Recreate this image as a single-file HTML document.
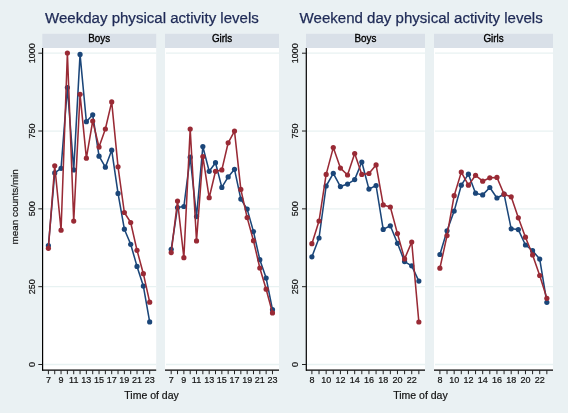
<!DOCTYPE html><html><head><meta charset="utf-8"><style>html,body{margin:0;padding:0;background:#eaf1f3;}svg{display:block;will-change:transform;}text{font-family:"Liberation Sans",sans-serif;}</style></head><body>
<svg width="568" height="413" viewBox="0 0 568 413">
<rect x="0" y="0" width="568" height="413" fill="#eaf1f3"/>
<text x="45.0" y="22.6" font-size="15.05" fill="#1e2a56" stroke="#1e2a56" stroke-width="0.25">Weekday physical activity levels</text>
<text x="299.6" y="22.5" font-size="15.05" fill="#1e2a56" stroke="#1e2a56" stroke-width="0.25">Weekend day physical activity levels</text>
<rect x="42.30" y="33.80" width="113.90" height="14.20" fill="#d9e0e8"/>
<text transform="translate(99.25 42.3) scale(0.94 1)" font-size="10.5" text-anchor="middle" fill="#000" stroke="#000" stroke-width="0.35">Boys</text>
<rect x="42.30" y="48.00" width="113.90" height="322.20" fill="#fff"/>
<line x1="43.30" y1="364.50" x2="156.20" y2="364.50" stroke="#e8f2f2" stroke-width="1.3"/>
<line x1="43.30" y1="286.68" x2="156.20" y2="286.68" stroke="#e8f2f2" stroke-width="1.3"/>
<line x1="43.30" y1="208.85" x2="156.20" y2="208.85" stroke="#e8f2f2" stroke-width="1.3"/>
<line x1="43.30" y1="131.03" x2="156.20" y2="131.03" stroke="#e8f2f2" stroke-width="1.3"/>
<line x1="43.30" y1="53.20" x2="156.20" y2="53.20" stroke="#e8f2f2" stroke-width="1.3"/>
<line x1="42.60" y1="48.00" x2="42.60" y2="370.80" stroke="#000" stroke-width="1.2"/>
<line x1="38.30" y1="364.50" x2="42.30" y2="364.50" stroke="#222" stroke-width="1"/>
<text transform="translate(35.10 364.50) rotate(-90)" font-size="9" text-anchor="middle" fill="#111" stroke="#111" stroke-width="0.2">0</text>
<line x1="38.30" y1="286.68" x2="42.30" y2="286.68" stroke="#222" stroke-width="1"/>
<text transform="translate(35.10 286.68) rotate(-90)" font-size="9" text-anchor="middle" fill="#111" stroke="#111" stroke-width="0.2">250</text>
<line x1="38.30" y1="208.85" x2="42.30" y2="208.85" stroke="#222" stroke-width="1"/>
<text transform="translate(35.10 208.85) rotate(-90)" font-size="9" text-anchor="middle" fill="#111" stroke="#111" stroke-width="0.2">500</text>
<line x1="38.30" y1="131.03" x2="42.30" y2="131.03" stroke="#222" stroke-width="1"/>
<text transform="translate(35.10 131.03) rotate(-90)" font-size="9" text-anchor="middle" fill="#111" stroke="#111" stroke-width="0.2">750</text>
<line x1="38.30" y1="53.20" x2="42.30" y2="53.20" stroke="#222" stroke-width="1"/>
<text transform="translate(35.10 53.20) rotate(-90)" font-size="9" text-anchor="middle" fill="#111" stroke="#111" stroke-width="0.2">1000</text>
<line x1="42.30" y1="370.20" x2="156.20" y2="370.20" stroke="#000" stroke-width="1.2"/>
<line x1="48.40" y1="370.20" x2="48.40" y2="374.20" stroke="#222" stroke-width="1"/>
<line x1="54.73" y1="370.20" x2="54.73" y2="374.20" stroke="#222" stroke-width="1"/>
<line x1="61.06" y1="370.20" x2="61.06" y2="374.20" stroke="#222" stroke-width="1"/>
<line x1="67.39" y1="370.20" x2="67.39" y2="374.20" stroke="#222" stroke-width="1"/>
<line x1="73.72" y1="370.20" x2="73.72" y2="374.20" stroke="#222" stroke-width="1"/>
<line x1="80.05" y1="370.20" x2="80.05" y2="374.20" stroke="#222" stroke-width="1"/>
<line x1="86.38" y1="370.20" x2="86.38" y2="374.20" stroke="#222" stroke-width="1"/>
<line x1="92.71" y1="370.20" x2="92.71" y2="374.20" stroke="#222" stroke-width="1"/>
<line x1="99.04" y1="370.20" x2="99.04" y2="374.20" stroke="#222" stroke-width="1"/>
<line x1="105.37" y1="370.20" x2="105.37" y2="374.20" stroke="#222" stroke-width="1"/>
<line x1="111.70" y1="370.20" x2="111.70" y2="374.20" stroke="#222" stroke-width="1"/>
<line x1="118.03" y1="370.20" x2="118.03" y2="374.20" stroke="#222" stroke-width="1"/>
<line x1="124.36" y1="370.20" x2="124.36" y2="374.20" stroke="#222" stroke-width="1"/>
<line x1="130.69" y1="370.20" x2="130.69" y2="374.20" stroke="#222" stroke-width="1"/>
<line x1="137.02" y1="370.20" x2="137.02" y2="374.20" stroke="#222" stroke-width="1"/>
<line x1="143.35" y1="370.20" x2="143.35" y2="374.20" stroke="#222" stroke-width="1"/>
<line x1="149.68" y1="370.20" x2="149.68" y2="374.20" stroke="#222" stroke-width="1"/>
<text x="48.40" y="382.5" font-size="9" text-anchor="middle" fill="#111" stroke="#111" stroke-width="0.2">7</text>
<text x="61.06" y="382.5" font-size="9" text-anchor="middle" fill="#111" stroke="#111" stroke-width="0.2">9</text>
<text x="73.72" y="382.5" font-size="9" text-anchor="middle" fill="#111" stroke="#111" stroke-width="0.2">11</text>
<text x="86.38" y="382.5" font-size="9" text-anchor="middle" fill="#111" stroke="#111" stroke-width="0.2">13</text>
<text x="99.04" y="382.5" font-size="9" text-anchor="middle" fill="#111" stroke="#111" stroke-width="0.2">15</text>
<text x="111.70" y="382.5" font-size="9" text-anchor="middle" fill="#111" stroke="#111" stroke-width="0.2">17</text>
<text x="124.36" y="382.5" font-size="9" text-anchor="middle" fill="#111" stroke="#111" stroke-width="0.2">19</text>
<text x="137.02" y="382.5" font-size="9" text-anchor="middle" fill="#111" stroke="#111" stroke-width="0.2">21</text>
<text x="149.68" y="382.5" font-size="9" text-anchor="middle" fill="#111" stroke="#111" stroke-width="0.2">23</text>
<polyline points="48.40,245.70 54.73,172.90 61.06,168.30 67.39,87.60 73.72,169.90 80.05,54.40 86.38,121.70 92.71,114.80 99.04,156.20 105.37,167.20 111.70,150.20 118.03,193.40 124.36,229.20 130.69,244.30 137.02,266.40 143.35,286.10 149.68,321.90" fill="none" stroke="#1b4679" stroke-width="1.55" stroke-linejoin="round"/>
<circle cx="48.40" cy="245.70" r="2.6" fill="#1b4679"/>
<circle cx="54.73" cy="172.90" r="2.6" fill="#1b4679"/>
<circle cx="61.06" cy="168.30" r="2.6" fill="#1b4679"/>
<circle cx="67.39" cy="87.60" r="2.6" fill="#1b4679"/>
<circle cx="73.72" cy="169.90" r="2.6" fill="#1b4679"/>
<circle cx="80.05" cy="54.40" r="2.6" fill="#1b4679"/>
<circle cx="86.38" cy="121.70" r="2.6" fill="#1b4679"/>
<circle cx="92.71" cy="114.80" r="2.6" fill="#1b4679"/>
<circle cx="99.04" cy="156.20" r="2.6" fill="#1b4679"/>
<circle cx="105.37" cy="167.20" r="2.6" fill="#1b4679"/>
<circle cx="111.70" cy="150.20" r="2.6" fill="#1b4679"/>
<circle cx="118.03" cy="193.40" r="2.6" fill="#1b4679"/>
<circle cx="124.36" cy="229.20" r="2.6" fill="#1b4679"/>
<circle cx="130.69" cy="244.30" r="2.6" fill="#1b4679"/>
<circle cx="137.02" cy="266.40" r="2.6" fill="#1b4679"/>
<circle cx="143.35" cy="286.10" r="2.6" fill="#1b4679"/>
<circle cx="149.68" cy="321.90" r="2.6" fill="#1b4679"/>
<polyline points="48.40,248.30 54.73,165.80 61.06,230.20 67.39,53.00 73.72,221.10 80.05,94.30 86.38,158.20 92.71,121.00 99.04,147.10 105.37,129.00 111.70,101.90 118.03,166.80 124.36,212.50 130.69,222.50 137.02,250.30 143.35,273.70 149.68,302.20" fill="none" stroke="#992a35" stroke-width="1.55" stroke-linejoin="round"/>
<circle cx="48.40" cy="248.30" r="2.6" fill="#992a35"/>
<circle cx="54.73" cy="165.80" r="2.6" fill="#992a35"/>
<circle cx="61.06" cy="230.20" r="2.6" fill="#992a35"/>
<circle cx="67.39" cy="53.00" r="2.6" fill="#992a35"/>
<circle cx="73.72" cy="221.10" r="2.6" fill="#992a35"/>
<circle cx="80.05" cy="94.30" r="2.6" fill="#992a35"/>
<circle cx="86.38" cy="158.20" r="2.6" fill="#992a35"/>
<circle cx="92.71" cy="121.00" r="2.6" fill="#992a35"/>
<circle cx="99.04" cy="147.10" r="2.6" fill="#992a35"/>
<circle cx="105.37" cy="129.00" r="2.6" fill="#992a35"/>
<circle cx="111.70" cy="101.90" r="2.6" fill="#992a35"/>
<circle cx="118.03" cy="166.80" r="2.6" fill="#992a35"/>
<circle cx="124.36" cy="212.50" r="2.6" fill="#992a35"/>
<circle cx="130.69" cy="222.50" r="2.6" fill="#992a35"/>
<circle cx="137.02" cy="250.30" r="2.6" fill="#992a35"/>
<circle cx="143.35" cy="273.70" r="2.6" fill="#992a35"/>
<circle cx="149.68" cy="302.20" r="2.6" fill="#992a35"/>
<rect x="165.00" y="33.80" width="114.00" height="14.20" fill="#d9e0e8"/>
<text transform="translate(222.00 42.3) scale(0.94 1)" font-size="10.5" text-anchor="middle" fill="#000" stroke="#000" stroke-width="0.35">Girls</text>
<rect x="165.00" y="48.00" width="114.00" height="322.20" fill="#fff"/>
<line x1="166.00" y1="364.50" x2="279.00" y2="364.50" stroke="#e8f2f2" stroke-width="1.3"/>
<line x1="166.00" y1="286.68" x2="279.00" y2="286.68" stroke="#e8f2f2" stroke-width="1.3"/>
<line x1="166.00" y1="208.85" x2="279.00" y2="208.85" stroke="#e8f2f2" stroke-width="1.3"/>
<line x1="166.00" y1="131.03" x2="279.00" y2="131.03" stroke="#e8f2f2" stroke-width="1.3"/>
<line x1="166.00" y1="53.20" x2="279.00" y2="53.20" stroke="#e8f2f2" stroke-width="1.3"/>
<line x1="165.00" y1="370.20" x2="279.00" y2="370.20" stroke="#000" stroke-width="1.2"/>
<line x1="171.20" y1="370.20" x2="171.20" y2="374.20" stroke="#222" stroke-width="1"/>
<line x1="177.53" y1="370.20" x2="177.53" y2="374.20" stroke="#222" stroke-width="1"/>
<line x1="183.86" y1="370.20" x2="183.86" y2="374.20" stroke="#222" stroke-width="1"/>
<line x1="190.19" y1="370.20" x2="190.19" y2="374.20" stroke="#222" stroke-width="1"/>
<line x1="196.52" y1="370.20" x2="196.52" y2="374.20" stroke="#222" stroke-width="1"/>
<line x1="202.85" y1="370.20" x2="202.85" y2="374.20" stroke="#222" stroke-width="1"/>
<line x1="209.18" y1="370.20" x2="209.18" y2="374.20" stroke="#222" stroke-width="1"/>
<line x1="215.51" y1="370.20" x2="215.51" y2="374.20" stroke="#222" stroke-width="1"/>
<line x1="221.84" y1="370.20" x2="221.84" y2="374.20" stroke="#222" stroke-width="1"/>
<line x1="228.17" y1="370.20" x2="228.17" y2="374.20" stroke="#222" stroke-width="1"/>
<line x1="234.50" y1="370.20" x2="234.50" y2="374.20" stroke="#222" stroke-width="1"/>
<line x1="240.83" y1="370.20" x2="240.83" y2="374.20" stroke="#222" stroke-width="1"/>
<line x1="247.16" y1="370.20" x2="247.16" y2="374.20" stroke="#222" stroke-width="1"/>
<line x1="253.49" y1="370.20" x2="253.49" y2="374.20" stroke="#222" stroke-width="1"/>
<line x1="259.82" y1="370.20" x2="259.82" y2="374.20" stroke="#222" stroke-width="1"/>
<line x1="266.15" y1="370.20" x2="266.15" y2="374.20" stroke="#222" stroke-width="1"/>
<line x1="272.48" y1="370.20" x2="272.48" y2="374.20" stroke="#222" stroke-width="1"/>
<text x="171.20" y="382.5" font-size="9" text-anchor="middle" fill="#111" stroke="#111" stroke-width="0.2">7</text>
<text x="183.86" y="382.5" font-size="9" text-anchor="middle" fill="#111" stroke="#111" stroke-width="0.2">9</text>
<text x="196.52" y="382.5" font-size="9" text-anchor="middle" fill="#111" stroke="#111" stroke-width="0.2">11</text>
<text x="209.18" y="382.5" font-size="9" text-anchor="middle" fill="#111" stroke="#111" stroke-width="0.2">13</text>
<text x="221.84" y="382.5" font-size="9" text-anchor="middle" fill="#111" stroke="#111" stroke-width="0.2">15</text>
<text x="234.50" y="382.5" font-size="9" text-anchor="middle" fill="#111" stroke="#111" stroke-width="0.2">17</text>
<text x="247.16" y="382.5" font-size="9" text-anchor="middle" fill="#111" stroke="#111" stroke-width="0.2">19</text>
<text x="259.82" y="382.5" font-size="9" text-anchor="middle" fill="#111" stroke="#111" stroke-width="0.2">21</text>
<text x="272.48" y="382.5" font-size="9" text-anchor="middle" fill="#111" stroke="#111" stroke-width="0.2">23</text>
<polyline points="171.20,249.30 177.53,207.50 183.86,206.50 190.19,157.20 196.52,216.60 202.85,146.60 209.18,171.30 215.51,162.70 221.84,187.40 228.17,176.90 234.50,169.30 240.83,199.10 247.16,209.10 253.49,231.60 259.82,259.70 266.15,278.10 272.48,309.70" fill="none" stroke="#1b4679" stroke-width="1.55" stroke-linejoin="round"/>
<circle cx="171.20" cy="249.30" r="2.6" fill="#1b4679"/>
<circle cx="177.53" cy="207.50" r="2.6" fill="#1b4679"/>
<circle cx="183.86" cy="206.50" r="2.6" fill="#1b4679"/>
<circle cx="190.19" cy="157.20" r="2.6" fill="#1b4679"/>
<circle cx="196.52" cy="216.60" r="2.6" fill="#1b4679"/>
<circle cx="202.85" cy="146.60" r="2.6" fill="#1b4679"/>
<circle cx="209.18" cy="171.30" r="2.6" fill="#1b4679"/>
<circle cx="215.51" cy="162.70" r="2.6" fill="#1b4679"/>
<circle cx="221.84" cy="187.40" r="2.6" fill="#1b4679"/>
<circle cx="228.17" cy="176.90" r="2.6" fill="#1b4679"/>
<circle cx="234.50" cy="169.30" r="2.6" fill="#1b4679"/>
<circle cx="240.83" cy="199.10" r="2.6" fill="#1b4679"/>
<circle cx="247.16" cy="209.10" r="2.6" fill="#1b4679"/>
<circle cx="253.49" cy="231.60" r="2.6" fill="#1b4679"/>
<circle cx="259.82" cy="259.70" r="2.6" fill="#1b4679"/>
<circle cx="266.15" cy="278.10" r="2.6" fill="#1b4679"/>
<circle cx="272.48" cy="309.70" r="2.6" fill="#1b4679"/>
<polyline points="171.20,252.60 177.53,201.10 183.86,257.70 190.19,129.10 196.52,240.90 202.85,156.60 209.18,197.70 215.51,171.30 221.84,169.90 228.17,142.80 234.50,131.10 240.83,189.40 247.16,217.60 253.49,240.70 259.82,268.00 266.15,289.20 272.48,312.90" fill="none" stroke="#992a35" stroke-width="1.55" stroke-linejoin="round"/>
<circle cx="171.20" cy="252.60" r="2.6" fill="#992a35"/>
<circle cx="177.53" cy="201.10" r="2.6" fill="#992a35"/>
<circle cx="183.86" cy="257.70" r="2.6" fill="#992a35"/>
<circle cx="190.19" cy="129.10" r="2.6" fill="#992a35"/>
<circle cx="196.52" cy="240.90" r="2.6" fill="#992a35"/>
<circle cx="202.85" cy="156.60" r="2.6" fill="#992a35"/>
<circle cx="209.18" cy="197.70" r="2.6" fill="#992a35"/>
<circle cx="215.51" cy="171.30" r="2.6" fill="#992a35"/>
<circle cx="221.84" cy="169.90" r="2.6" fill="#992a35"/>
<circle cx="228.17" cy="142.80" r="2.6" fill="#992a35"/>
<circle cx="234.50" cy="131.10" r="2.6" fill="#992a35"/>
<circle cx="240.83" cy="189.40" r="2.6" fill="#992a35"/>
<circle cx="247.16" cy="217.60" r="2.6" fill="#992a35"/>
<circle cx="253.49" cy="240.70" r="2.6" fill="#992a35"/>
<circle cx="259.82" cy="268.00" r="2.6" fill="#992a35"/>
<circle cx="266.15" cy="289.20" r="2.6" fill="#992a35"/>
<circle cx="272.48" cy="312.90" r="2.6" fill="#992a35"/>
<rect x="306.00" y="33.80" width="119.00" height="14.20" fill="#d9e0e8"/>
<text transform="translate(365.50 42.3) scale(0.94 1)" font-size="10.5" text-anchor="middle" fill="#000" stroke="#000" stroke-width="0.35">Boys</text>
<rect x="306.00" y="48.00" width="119.00" height="322.20" fill="#fff"/>
<line x1="307.00" y1="364.50" x2="425.00" y2="364.50" stroke="#e8f2f2" stroke-width="1.3"/>
<line x1="307.00" y1="286.68" x2="425.00" y2="286.68" stroke="#e8f2f2" stroke-width="1.3"/>
<line x1="307.00" y1="208.85" x2="425.00" y2="208.85" stroke="#e8f2f2" stroke-width="1.3"/>
<line x1="307.00" y1="131.03" x2="425.00" y2="131.03" stroke="#e8f2f2" stroke-width="1.3"/>
<line x1="307.00" y1="53.20" x2="425.00" y2="53.20" stroke="#e8f2f2" stroke-width="1.3"/>
<line x1="306.30" y1="48.00" x2="306.30" y2="370.80" stroke="#000" stroke-width="1.2"/>
<line x1="302.00" y1="364.50" x2="306.00" y2="364.50" stroke="#222" stroke-width="1"/>
<text transform="translate(298.00 364.50) rotate(-90)" font-size="9" text-anchor="middle" fill="#111" stroke="#111" stroke-width="0.2">0</text>
<line x1="302.00" y1="286.68" x2="306.00" y2="286.68" stroke="#222" stroke-width="1"/>
<text transform="translate(298.00 286.68) rotate(-90)" font-size="9" text-anchor="middle" fill="#111" stroke="#111" stroke-width="0.2">250</text>
<line x1="302.00" y1="208.85" x2="306.00" y2="208.85" stroke="#222" stroke-width="1"/>
<text transform="translate(298.00 208.85) rotate(-90)" font-size="9" text-anchor="middle" fill="#111" stroke="#111" stroke-width="0.2">500</text>
<line x1="302.00" y1="131.03" x2="306.00" y2="131.03" stroke="#222" stroke-width="1"/>
<text transform="translate(298.00 131.03) rotate(-90)" font-size="9" text-anchor="middle" fill="#111" stroke="#111" stroke-width="0.2">750</text>
<line x1="302.00" y1="53.20" x2="306.00" y2="53.20" stroke="#222" stroke-width="1"/>
<text transform="translate(298.00 53.20) rotate(-90)" font-size="9" text-anchor="middle" fill="#111" stroke="#111" stroke-width="0.2">1000</text>
<line x1="306.00" y1="370.20" x2="425.00" y2="370.20" stroke="#000" stroke-width="1.2"/>
<line x1="311.90" y1="370.20" x2="311.90" y2="374.20" stroke="#222" stroke-width="1"/>
<line x1="319.03" y1="370.20" x2="319.03" y2="374.20" stroke="#222" stroke-width="1"/>
<line x1="326.16" y1="370.20" x2="326.16" y2="374.20" stroke="#222" stroke-width="1"/>
<line x1="333.29" y1="370.20" x2="333.29" y2="374.20" stroke="#222" stroke-width="1"/>
<line x1="340.42" y1="370.20" x2="340.42" y2="374.20" stroke="#222" stroke-width="1"/>
<line x1="347.55" y1="370.20" x2="347.55" y2="374.20" stroke="#222" stroke-width="1"/>
<line x1="354.68" y1="370.20" x2="354.68" y2="374.20" stroke="#222" stroke-width="1"/>
<line x1="361.81" y1="370.20" x2="361.81" y2="374.20" stroke="#222" stroke-width="1"/>
<line x1="368.94" y1="370.20" x2="368.94" y2="374.20" stroke="#222" stroke-width="1"/>
<line x1="376.07" y1="370.20" x2="376.07" y2="374.20" stroke="#222" stroke-width="1"/>
<line x1="383.20" y1="370.20" x2="383.20" y2="374.20" stroke="#222" stroke-width="1"/>
<line x1="390.33" y1="370.20" x2="390.33" y2="374.20" stroke="#222" stroke-width="1"/>
<line x1="397.46" y1="370.20" x2="397.46" y2="374.20" stroke="#222" stroke-width="1"/>
<line x1="404.59" y1="370.20" x2="404.59" y2="374.20" stroke="#222" stroke-width="1"/>
<line x1="411.72" y1="370.20" x2="411.72" y2="374.20" stroke="#222" stroke-width="1"/>
<line x1="418.85" y1="370.20" x2="418.85" y2="374.20" stroke="#222" stroke-width="1"/>
<text x="311.90" y="382.5" font-size="9" text-anchor="middle" fill="#111" stroke="#111" stroke-width="0.2">8</text>
<text x="326.16" y="382.5" font-size="9" text-anchor="middle" fill="#111" stroke="#111" stroke-width="0.2">10</text>
<text x="340.42" y="382.5" font-size="9" text-anchor="middle" fill="#111" stroke="#111" stroke-width="0.2">12</text>
<text x="354.68" y="382.5" font-size="9" text-anchor="middle" fill="#111" stroke="#111" stroke-width="0.2">14</text>
<text x="368.94" y="382.5" font-size="9" text-anchor="middle" fill="#111" stroke="#111" stroke-width="0.2">16</text>
<text x="383.20" y="382.5" font-size="9" text-anchor="middle" fill="#111" stroke="#111" stroke-width="0.2">18</text>
<text x="397.46" y="382.5" font-size="9" text-anchor="middle" fill="#111" stroke="#111" stroke-width="0.2">20</text>
<text x="411.72" y="382.5" font-size="9" text-anchor="middle" fill="#111" stroke="#111" stroke-width="0.2">22</text>
<polyline points="311.90,256.80 319.03,238.00 326.16,186.00 333.29,173.30 340.42,186.60 347.55,184.10 354.68,179.60 361.81,162.00 368.94,189.10 376.07,185.50 383.20,229.40 390.33,225.80 397.46,243.30 404.59,261.60 411.72,265.80 418.85,281.10" fill="none" stroke="#1b4679" stroke-width="1.55" stroke-linejoin="round"/>
<circle cx="311.90" cy="256.80" r="2.6" fill="#1b4679"/>
<circle cx="319.03" cy="238.00" r="2.6" fill="#1b4679"/>
<circle cx="326.16" cy="186.00" r="2.6" fill="#1b4679"/>
<circle cx="333.29" cy="173.30" r="2.6" fill="#1b4679"/>
<circle cx="340.42" cy="186.60" r="2.6" fill="#1b4679"/>
<circle cx="347.55" cy="184.10" r="2.6" fill="#1b4679"/>
<circle cx="354.68" cy="179.60" r="2.6" fill="#1b4679"/>
<circle cx="361.81" cy="162.00" r="2.6" fill="#1b4679"/>
<circle cx="368.94" cy="189.10" r="2.6" fill="#1b4679"/>
<circle cx="376.07" cy="185.50" r="2.6" fill="#1b4679"/>
<circle cx="383.20" cy="229.40" r="2.6" fill="#1b4679"/>
<circle cx="390.33" cy="225.80" r="2.6" fill="#1b4679"/>
<circle cx="397.46" cy="243.30" r="2.6" fill="#1b4679"/>
<circle cx="404.59" cy="261.60" r="2.6" fill="#1b4679"/>
<circle cx="411.72" cy="265.80" r="2.6" fill="#1b4679"/>
<circle cx="418.85" cy="281.10" r="2.6" fill="#1b4679"/>
<polyline points="311.90,243.70 319.03,221.00 326.16,174.40 333.29,147.60 340.42,168.10 347.55,175.00 354.68,153.50 361.81,174.40 368.94,173.50 376.07,164.90 383.20,204.90 390.33,207.00 397.46,233.60 404.59,258.90 411.72,242.00 418.85,322.00" fill="none" stroke="#992a35" stroke-width="1.55" stroke-linejoin="round"/>
<circle cx="311.90" cy="243.70" r="2.6" fill="#992a35"/>
<circle cx="319.03" cy="221.00" r="2.6" fill="#992a35"/>
<circle cx="326.16" cy="174.40" r="2.6" fill="#992a35"/>
<circle cx="333.29" cy="147.60" r="2.6" fill="#992a35"/>
<circle cx="340.42" cy="168.10" r="2.6" fill="#992a35"/>
<circle cx="347.55" cy="175.00" r="2.6" fill="#992a35"/>
<circle cx="354.68" cy="153.50" r="2.6" fill="#992a35"/>
<circle cx="361.81" cy="174.40" r="2.6" fill="#992a35"/>
<circle cx="368.94" cy="173.50" r="2.6" fill="#992a35"/>
<circle cx="376.07" cy="164.90" r="2.6" fill="#992a35"/>
<circle cx="383.20" cy="204.90" r="2.6" fill="#992a35"/>
<circle cx="390.33" cy="207.00" r="2.6" fill="#992a35"/>
<circle cx="397.46" cy="233.60" r="2.6" fill="#992a35"/>
<circle cx="404.59" cy="258.90" r="2.6" fill="#992a35"/>
<circle cx="411.72" cy="242.00" r="2.6" fill="#992a35"/>
<circle cx="418.85" cy="322.00" r="2.6" fill="#992a35"/>
<rect x="434.00" y="33.80" width="119.00" height="14.20" fill="#d9e0e8"/>
<text transform="translate(493.50 42.3) scale(0.94 1)" font-size="10.5" text-anchor="middle" fill="#000" stroke="#000" stroke-width="0.35">Girls</text>
<rect x="434.00" y="48.00" width="119.00" height="322.20" fill="#fff"/>
<line x1="435.00" y1="364.50" x2="553.00" y2="364.50" stroke="#e8f2f2" stroke-width="1.3"/>
<line x1="435.00" y1="286.68" x2="553.00" y2="286.68" stroke="#e8f2f2" stroke-width="1.3"/>
<line x1="435.00" y1="208.85" x2="553.00" y2="208.85" stroke="#e8f2f2" stroke-width="1.3"/>
<line x1="435.00" y1="131.03" x2="553.00" y2="131.03" stroke="#e8f2f2" stroke-width="1.3"/>
<line x1="435.00" y1="53.20" x2="553.00" y2="53.20" stroke="#e8f2f2" stroke-width="1.3"/>
<line x1="434.00" y1="370.20" x2="553.00" y2="370.20" stroke="#000" stroke-width="1.2"/>
<line x1="439.90" y1="370.20" x2="439.90" y2="374.20" stroke="#222" stroke-width="1"/>
<line x1="447.03" y1="370.20" x2="447.03" y2="374.20" stroke="#222" stroke-width="1"/>
<line x1="454.16" y1="370.20" x2="454.16" y2="374.20" stroke="#222" stroke-width="1"/>
<line x1="461.29" y1="370.20" x2="461.29" y2="374.20" stroke="#222" stroke-width="1"/>
<line x1="468.42" y1="370.20" x2="468.42" y2="374.20" stroke="#222" stroke-width="1"/>
<line x1="475.55" y1="370.20" x2="475.55" y2="374.20" stroke="#222" stroke-width="1"/>
<line x1="482.68" y1="370.20" x2="482.68" y2="374.20" stroke="#222" stroke-width="1"/>
<line x1="489.81" y1="370.20" x2="489.81" y2="374.20" stroke="#222" stroke-width="1"/>
<line x1="496.94" y1="370.20" x2="496.94" y2="374.20" stroke="#222" stroke-width="1"/>
<line x1="504.07" y1="370.20" x2="504.07" y2="374.20" stroke="#222" stroke-width="1"/>
<line x1="511.20" y1="370.20" x2="511.20" y2="374.20" stroke="#222" stroke-width="1"/>
<line x1="518.33" y1="370.20" x2="518.33" y2="374.20" stroke="#222" stroke-width="1"/>
<line x1="525.46" y1="370.20" x2="525.46" y2="374.20" stroke="#222" stroke-width="1"/>
<line x1="532.59" y1="370.20" x2="532.59" y2="374.20" stroke="#222" stroke-width="1"/>
<line x1="539.72" y1="370.20" x2="539.72" y2="374.20" stroke="#222" stroke-width="1"/>
<line x1="546.85" y1="370.20" x2="546.85" y2="374.20" stroke="#222" stroke-width="1"/>
<text x="439.90" y="382.5" font-size="9" text-anchor="middle" fill="#111" stroke="#111" stroke-width="0.2">8</text>
<text x="454.16" y="382.5" font-size="9" text-anchor="middle" fill="#111" stroke="#111" stroke-width="0.2">10</text>
<text x="468.42" y="382.5" font-size="9" text-anchor="middle" fill="#111" stroke="#111" stroke-width="0.2">12</text>
<text x="482.68" y="382.5" font-size="9" text-anchor="middle" fill="#111" stroke="#111" stroke-width="0.2">14</text>
<text x="496.94" y="382.5" font-size="9" text-anchor="middle" fill="#111" stroke="#111" stroke-width="0.2">16</text>
<text x="511.20" y="382.5" font-size="9" text-anchor="middle" fill="#111" stroke="#111" stroke-width="0.2">18</text>
<text x="525.46" y="382.5" font-size="9" text-anchor="middle" fill="#111" stroke="#111" stroke-width="0.2">20</text>
<text x="539.72" y="382.5" font-size="9" text-anchor="middle" fill="#111" stroke="#111" stroke-width="0.2">22</text>
<polyline points="439.90,254.50 447.03,230.80 454.16,211.10 461.29,185.20 468.42,174.20 475.55,193.20 482.68,194.90 489.81,187.50 496.94,198.00 504.07,194.20 511.20,228.80 518.33,229.60 525.46,245.00 532.59,250.70 539.72,259.10 546.85,302.30" fill="none" stroke="#1b4679" stroke-width="1.55" stroke-linejoin="round"/>
<circle cx="439.90" cy="254.50" r="2.6" fill="#1b4679"/>
<circle cx="447.03" cy="230.80" r="2.6" fill="#1b4679"/>
<circle cx="454.16" cy="211.10" r="2.6" fill="#1b4679"/>
<circle cx="461.29" cy="185.20" r="2.6" fill="#1b4679"/>
<circle cx="468.42" cy="174.20" r="2.6" fill="#1b4679"/>
<circle cx="475.55" cy="193.20" r="2.6" fill="#1b4679"/>
<circle cx="482.68" cy="194.90" r="2.6" fill="#1b4679"/>
<circle cx="489.81" cy="187.50" r="2.6" fill="#1b4679"/>
<circle cx="496.94" cy="198.00" r="2.6" fill="#1b4679"/>
<circle cx="504.07" cy="194.20" r="2.6" fill="#1b4679"/>
<circle cx="511.20" cy="228.80" r="2.6" fill="#1b4679"/>
<circle cx="518.33" cy="229.60" r="2.6" fill="#1b4679"/>
<circle cx="525.46" cy="245.00" r="2.6" fill="#1b4679"/>
<circle cx="532.59" cy="250.70" r="2.6" fill="#1b4679"/>
<circle cx="539.72" cy="259.10" r="2.6" fill="#1b4679"/>
<circle cx="546.85" cy="302.30" r="2.6" fill="#1b4679"/>
<polyline points="439.90,268.20 447.03,235.60 454.16,195.70 461.29,172.10 468.42,185.20 475.55,175.30 482.68,181.20 489.81,177.80 496.94,177.40 504.07,194.20 511.20,196.80 518.33,217.80 525.46,237.20 532.59,254.90 539.72,275.50 546.85,298.30" fill="none" stroke="#992a35" stroke-width="1.55" stroke-linejoin="round"/>
<circle cx="439.90" cy="268.20" r="2.6" fill="#992a35"/>
<circle cx="447.03" cy="235.60" r="2.6" fill="#992a35"/>
<circle cx="454.16" cy="195.70" r="2.6" fill="#992a35"/>
<circle cx="461.29" cy="172.10" r="2.6" fill="#992a35"/>
<circle cx="468.42" cy="185.20" r="2.6" fill="#992a35"/>
<circle cx="475.55" cy="175.30" r="2.6" fill="#992a35"/>
<circle cx="482.68" cy="181.20" r="2.6" fill="#992a35"/>
<circle cx="489.81" cy="177.80" r="2.6" fill="#992a35"/>
<circle cx="496.94" cy="177.40" r="2.6" fill="#992a35"/>
<circle cx="504.07" cy="194.20" r="2.6" fill="#992a35"/>
<circle cx="511.20" cy="196.80" r="2.6" fill="#992a35"/>
<circle cx="518.33" cy="217.80" r="2.6" fill="#992a35"/>
<circle cx="525.46" cy="237.20" r="2.6" fill="#992a35"/>
<circle cx="532.59" cy="254.90" r="2.6" fill="#992a35"/>
<circle cx="539.72" cy="275.50" r="2.6" fill="#992a35"/>
<circle cx="546.85" cy="298.30" r="2.6" fill="#992a35"/>
<text x="124.3" y="399.3" font-size="10.5" fill="#111" stroke="#111" stroke-width="0.2">Time of day</text>
<text x="393.2" y="399.3" font-size="10.5" fill="#111" stroke="#111" stroke-width="0.2">Time of day</text>
<text transform="translate(18.1 206.8) rotate(-90)" font-size="9.9" text-anchor="middle" fill="#111" stroke="#111" stroke-width="0.2">mean counts/min</text>
</svg></body></html>
